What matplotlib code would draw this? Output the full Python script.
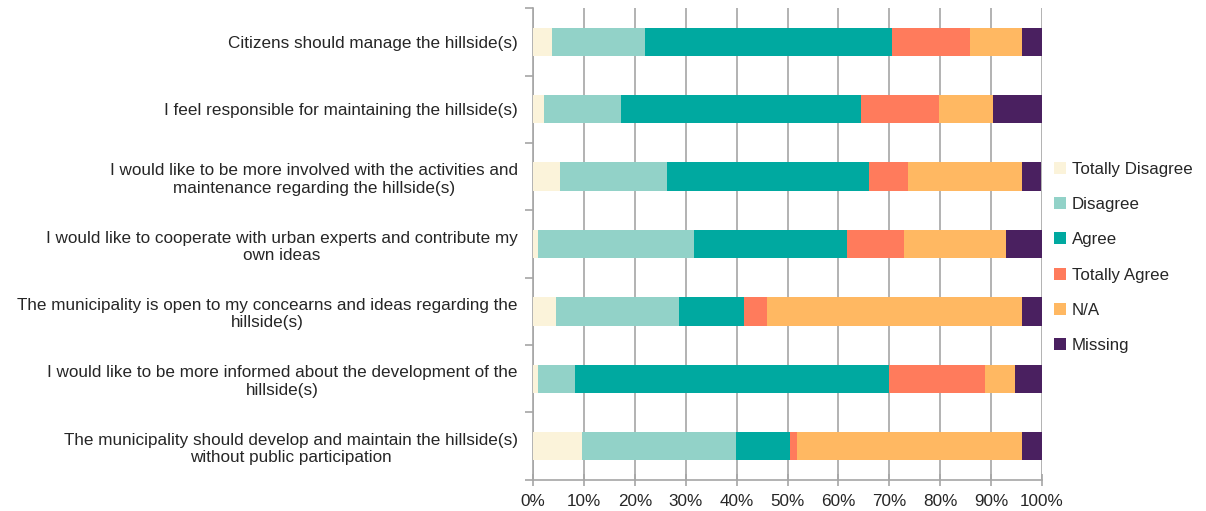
import matplotlib.pyplot as plt
import numpy as np

# statements, top to bottom
statements = [
    'Citizens should manage the hillside(s)',
    'I feel responsible for maintaining the hillside(s)',
    'I would like to be more involved with the activities and\nmaintenance regarding the hillside(s)',
    'I would like to cooperate with urban experts and contribute my\nown ideas',
    'The municipality is open to my concearns and ideas regarding the\nhillside(s)',
    'I would like to be more informed about the development of the\nhillside(s)',
    'The municipality should develop and maintain the hillside(s)\nwithout public participation',
]

# shares in percent
totally_disagree = [3.7, 2.1, 5.2, 0.9, 4.5, 0.9, 9.7]
disagree = [18.2, 15.2, 21.2, 30.8, 24.2, 7.4, 30.1]
agree = [48.7, 47.2, 39.6, 30.0, 12.7, 61.7, 10.6]
totally_agree = [15.2, 15.2, 7.6, 11.1, 4.5, 18.9, 1.5]
not_applicable = [10.3, 10.6, 22.4, 20.2, 50.2, 5.8, 44.2]
missing = [3.9, 9.7, 3.9, 7.0, 3.9, 5.4, 3.9]

series = [
    ('Totally Disagree', totally_disagree, '#FBF3DA'),
    ('Disagree', disagree, '#92D2C8'),
    ('Agree', agree, '#00A9A0'),
    ('Totally Agree', totally_agree, '#FF7B5C'),
    ('N/A', not_applicable, '#FFB862'),
    ('Missing', missing, '#4A2060'),
]

plt.rcParams['font.family'] = ['Liberation Sans', 'DejaVu Sans']

fig = plt.figure(figsize=(12.06, 5.11), dpi=100)
ax = fig.add_axes([0.442, 0.061, 0.422, 0.923])

y = np.arange(len(statements))
left = np.zeros(len(statements))
for name, vals, color in series:
    vals = np.array(vals, dtype=float)
    ax.barh(y, vals, left=left, height=0.42, color=color, label=name, zorder=3)
    left += vals

ax.set_xlim(0, 100)
ax.set_ylim(len(statements) - 0.5, -0.5)
ax.set_xticks(np.arange(0, 101, 10))
ax.set_xticklabels([f'{v}%' for v in range(0, 101, 10)])
ax.set_yticks(y)
ax.set_yticklabels(statements, linespacing=1.2)
ax.set_yticks(np.arange(-0.5, len(statements), 1), minor=True)

ax.grid(axis='x', color='#A6A6A6', linewidth=1.2, zorder=0)
for s in ['top', 'right']:
    ax.spines[s].set_visible(False)
for s in ['left', 'bottom']:
    ax.spines[s].set_color('#A6A6A6')
    ax.spines[s].set_linewidth(1.2)

ax.tick_params(axis='y', which='major', length=0, pad=11, labelsize=12.3, labelcolor='#262626')
ax.tick_params(axis='y', which='minor', length=6, color='#A6A6A6', width=1.2)
ax.tick_params(axis='x', direction='inout', length=8, color='#A6A6A6', width=1.2,
               labelsize=12.3, labelcolor='#262626', pad=6)
for lbl in ax.get_yticklabels():
    lbl.set_multialignment('center')

fig.legend(loc='upper left', bbox_to_anchor=(0.864, 0.707), frameon=False,
           fontsize=12.2, handlelength=0.7, handleheight=0.7, handletextpad=0.35,
           labelspacing=1.2, labelcolor='#262626', borderaxespad=0.3)

fig.savefig('out.png', dpi=100)
